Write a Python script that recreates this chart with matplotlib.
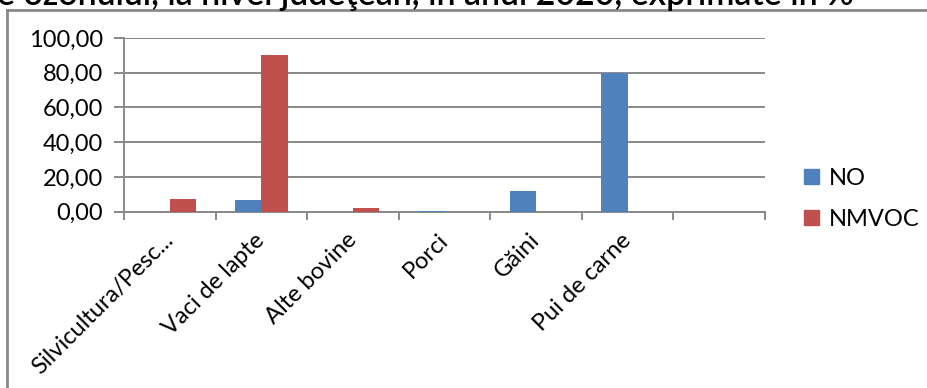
import matplotlib
matplotlib.use("Agg")
import matplotlib.pyplot as plt
import numpy as np
from matplotlib.lines import Line2D
from matplotlib.patches import Patch

categories = ["Silvicultura/Pesc...", "Vaci de lapte", "Alte bovine", "Porci",
              "Găini", "Pui de carne", ""]
no_values = [0.0, 6.9, 0.0, 0.3, 12.1, 80.0, 0.0]
nmvoc_values = [7.5, 90.3, 2.1, 0.0, 0.0, 0.0, 0.0]
series_names = ["NO", "NMVOC"]
y_ticks = [0, 20, 40, 60, 80, 100]
title_text = "e ozonului, la nivel judeţean, în anul 2020, exprimate în %"

W, H = 927, 388
fig = plt.figure(figsize=(W / 100, H / 100), dpi=100)
fig.patch.set_facecolor("white")

font = "Lato"
fsize = 17
grey = "#898989"
blue = "#4F81BD"
red = "#C0504D"

ax = fig.add_axes([124 / W, 1 - 211.7 / H, (765 - 124) / W, (211.7 - 38) / H])

x = np.arange(len(categories))
bw = 1 / 3.5
ax.bar(x - bw / 2, no_values, width=bw, color=blue, label=series_names[0], zorder=3)
ax.bar(x + bw / 2, nmvoc_values, width=bw, color=red, label=series_names[1], zorder=3)

ax.set_xlim(-0.5, len(categories) - 0.5)
ax.set_ylim(0, 100)
ax.set_yticks(y_ticks)
ax.set_yticklabels([f"{v:.2f}".replace(".", ",") for v in y_ticks],
                   fontfamily=font, fontsize=fsize)
ax.yaxis.grid(True, color=grey, linewidth=1.4, zorder=0)
ax.set_axisbelow(True)

ax.set_xticks(np.arange(len(categories) + 1) - 0.5)
ax.set_xticklabels([])
ax.tick_params(axis="x", direction="out", length=6, width=1.4, color=grey)
ax.tick_params(axis="y", direction="out", length=7, width=1.4, color=grey, pad=8)

for s in ["top", "right"]:
    ax.spines[s].set_visible(False)
for s in ["left", "bottom"]:
    ax.spines[s].set_color(grey)
    ax.spines[s].set_linewidth(1.4)

# rotated category labels, right end placed just below each category
for xi, lab in zip(x, categories):
    ax.annotate(lab, xy=(xi, 0), xycoords=("data", "axes fraction"),
                xytext=(0, -18), textcoords="offset points",
                rotation=45, ha="right", va="center", rotation_mode="anchor",
                fontfamily=font, fontsize=fsize)

handles = [Patch(color=blue), Patch(color=red)]
fig.legend(handles, series_names, loc="upper left",
           bbox_to_anchor=(804 / W, 1 - 168 / H), frameon=False,
           borderpad=0, borderaxespad=0,
           prop={"family": font, "size": fsize}, handlelength=0.62,
           handleheight=0.62, handletextpad=0.42, labelspacing=0.85)

# chart frame (top and left edges)
fig.add_artist(Line2D([7 / W, 1], [1 - 10 / H] * 2, color=grey, linewidth=2))
fig.add_artist(Line2D([7 / W] * 2, [1 - 10 / H, 0], color=grey, linewidth=2))

fig.text(-3 / W, 1 - 5 / H, title_text, fontfamily=font, fontweight="semibold",
         fontsize=24.5, va="baseline", ha="left")

fig.savefig("out.png", dpi=100)
